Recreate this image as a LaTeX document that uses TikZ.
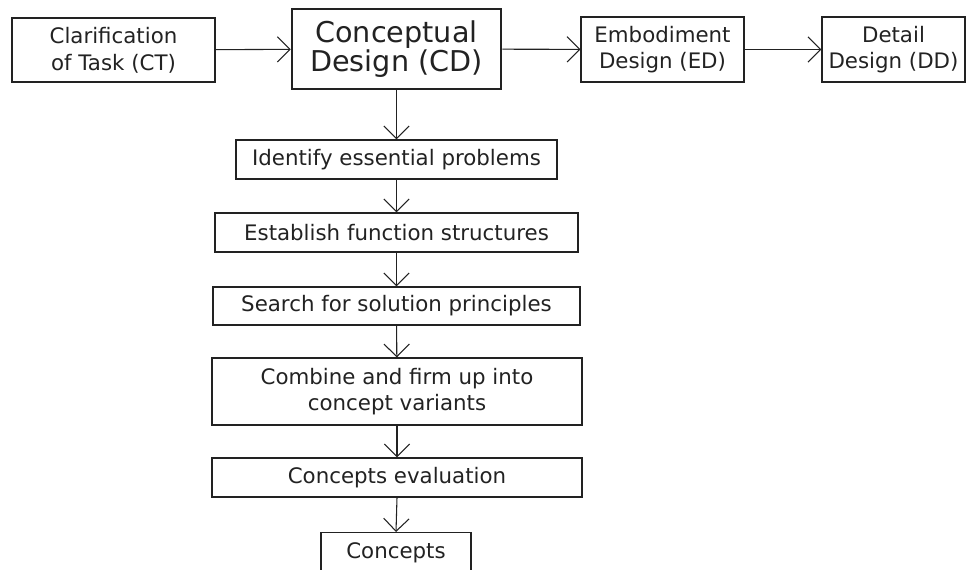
\documentclass[tikz,border=0pt]{standalone}
\usepackage{fontspec}
\setmainfont{DejaVu Sans}
\usetikzlibrary{arrows.meta}
\definecolor{ink}{HTML}{222222}
\tikzset{
  box/.style={draw=ink, text=ink, line width=0.8pt, inner sep=0pt, align=center,
    font=\fontsize{16}{20}\selectfont},
  bigbox/.style={box, line width=1.9pt, font=\fontsize{21.5}{21.75}\selectfont},
  flow/.style={draw=ink, line width=0.8pt, -{Straight Barb[length=9.5pt,width=19pt,line width=0.8pt]}}
}
\begin{document}
\begin{tikzpicture}[x=0.75pt,y=-0.75pt]
\useasboundingbox (0,0) rectangle (968,570);
\clip (0,0) rectangle (968,570);
\node[box, minimum width=152.25pt, minimum height=48pt] (ct) at (113.5,50) {Clarification\\of Task (CT)};
\node[bigbox, minimum width=156.75pt, minimum height=60pt] (cd) at (396.5,49) {Conceptual\\Design (CD)};
\node[box, minimum width=122.25pt, minimum height=48.75pt] (ed) at (662.5,49.5) {Embodiment\\Design (ED)};
\node[box, minimum width=107.25pt, minimum height=48.75pt] (dd) at (893.5,49.5) {Detail\\Design (DD)};
\node[box, minimum width=240.75pt, minimum height=29.25pt] (ip) at (396.5,159.5) {Identify essential problems};
\node[box, minimum width=272.25pt, minimum height=29.25pt] (fs) at (396.5,232.5) {Establish function structures};
\node[box, minimum width=275.25pt, minimum height=28.5pt] (sp) at (396.5,306) {Search for solution principles};
\node[box, minimum width=277.5pt, minimum height=50.25pt] (cv) at (397,391.5) {Combine and firm up into\\concept variants};
\node[box, minimum width=277.5pt, minimum height=29.25pt] (ce) at (397,477.5) {Concepts evaluation};
\node[box, minimum width=112.5pt, minimum height=30pt, anchor=north] (cc) at (396,532) {Concepts};
\draw[flow] (ct) -- (cd);
\draw[flow] (cd) -- (ed);
\draw[flow] (ed) -- (dd);
\draw[flow] (cd.south) -- (ip.north);
\draw[flow] (ip) -- (fs);
\draw[flow] (fs) -- (sp);
\draw[flow] (sp) -- (cv);
\draw[flow] (cv) -- (ce);
\draw[flow] (ce.south) -- (cc.north);
\end{tikzpicture}
\end{document}
